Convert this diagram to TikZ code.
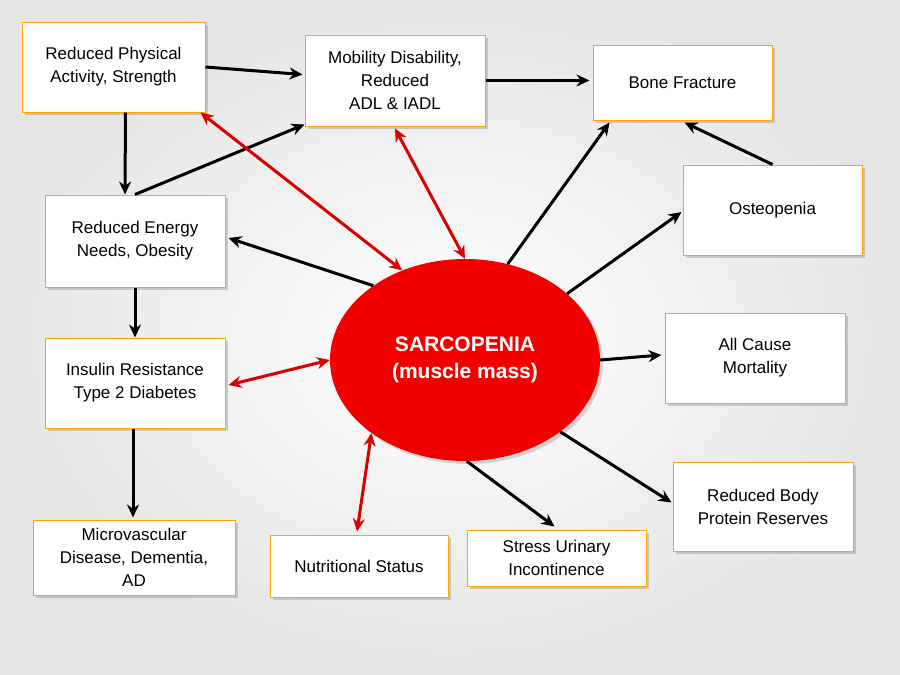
\documentclass[tikz,border=0pt]{standalone}
\usepackage{fontspec}
\setmainfont{Liberation Sans}
\usetikzlibrary{shapes.geometric,shadows,calc,arrows.meta}
\begin{document}
\begin{tikzpicture}[x=1pt,y=-1pt,
  box/.style={draw=orange!70!yellow,line width=1pt,fill=white,drop shadow={opacity=0.35,shadow xshift=3pt,shadow yshift=-3pt},align=center,font=\fontsize{17}{23}\selectfont,inner sep=2pt},
  blk/.style={-{Stealth[length=13pt,width=12pt]},line width=3pt,black},
  red/.style={{Stealth[length=13pt,width=12pt]}-{Stealth[length=13pt,width=12pt]},line width=3pt,red!85!black}]
\useasboundingbox (0,0) rectangle (900,675);
\shade[inner color=white,outer color=black!10] (0,0) rectangle (900,675);
\node[box,minimum width=183,minimum height=90] (a) at (113.5,67) {Reduced Physical\\Activity, Strength};
\node[box,minimum width=180,minimum height=91] (b) at (395,80.5) {Mobility Disability,\\Reduced\\ADL \& IADL};
\node[box,minimum width=179,minimum height=75] (c) at (682.5,82.5) {Bone Fracture};
\node[box,minimum width=179,minimum height=90] (d) at (772.5,210) {Osteopenia};
\node[box,minimum width=180,minimum height=92] (e) at (135,241) {Reduced Energy\\Needs, Obesity};
\node[box,minimum width=180,minimum height=90] (f) at (135,383) {Insulin Resistance\\Type 2 Diabetes};
\node[box,minimum width=180,minimum height=90] (g) at (755,358) {All Cause\\Mortality};
\node[box,minimum width=180,minimum height=89] (h) at (763,506.5) {Reduced Body\\Protein Reserves};
\node[box,minimum width=202,minimum height=75] (i) at (134,557.5) {Microvascular\\Disease, Dementia,\\AD};
\node[box,minimum width=178,minimum height=62] (j) at (359,566) {Nutritional Status};
\node[box,minimum width=179,minimum height=56] (k) at (556.5,558) {Stress Urinary\\Incontinence};
\node[ellipse,fill=red!95!black,minimum width=270,minimum height=202,inner sep=0,text=white,font=\bfseries\fontsize{21}{27}\selectfont,align=center,drop shadow={opacity=0.3,shadow xshift=3pt,shadow yshift=-3pt}] (s) at (465,360) {SARCOPENIA\\(muscle mass)};
\draw[blk] (a.east) -- ($(b.west)+(-2,-6)$);
\draw[blk] (b.east) -- ($(c.west)+(-3,-2)$);
\draw[blk] ($(a.south)+(12,0)$) -- ($(e.north)+(-10,0)$);
\draw[blk] ($(e.north)+(0,0)$) -- ($(b.south west)+(0,-2)$);
\draw[blk] (e.south) -- (f.north);
\draw[blk] ($(f.south)+(-2,0)$) -- ($(i.north)+(-1,-2)$);
\draw[blk] ($(d.north west)+(90,0)$) -- ($(c.south)+(2,2)$);
\draw[blk] (s.141) -- ($(e.east)+(3,-3)$);
\draw[blk] (s.66) -- ($(c.south west)+(17,2)$);
\draw[blk] (s.33) -- ($(d.west)+(-1,2)$);
\draw[blk] (s.east) -- ($(g.west)+(-3,-3)$);
\draw[blk] (s.-37) -- ($(h.west)+(-1,-4)$);
\draw[blk] (s.-89) -- ($(k.north)+(-2,-3)$);
\draw[red] ($(a.south east)+(-5,0)$) -- (s.125);
\draw[red] ($(b.south)+(0,2)$) -- (s.90);
\draw[red] ($(f.east)+(3,2)$) -- (s.180);
\draw[red] (s.-142) -- ($(j.north)+(-2,-3)$);
\end{tikzpicture}
\end{document}
